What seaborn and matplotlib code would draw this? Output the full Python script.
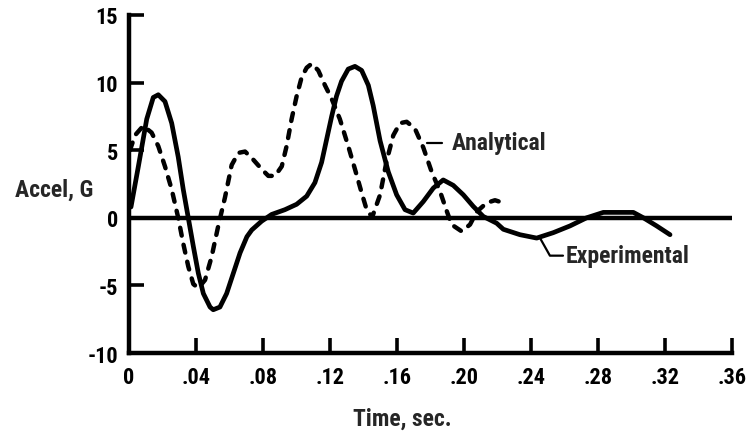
import matplotlib
matplotlib.use('Agg')
import matplotlib.pyplot as plt
import matplotlib.transforms as mtransforms
import seaborn as sns

# values (time in sec, acceleration in G)
exp_time = [0.0012, 0.0056, 0.0106, 0.0145, 0.0175, 0.0215, 0.0255, 0.0294, 0.0324, 0.0354,
            0.0384, 0.0414, 0.0444, 0.0484, 0.0503, 0.0543, 0.0583, 0.0623, 0.0663, 0.0704,
            0.0733, 0.0792, 0.0852, 0.0931, 0.1001, 0.1061, 0.1110, 0.1150, 0.1180, 0.1210,
            0.1239, 0.1269, 0.1309, 0.1349, 0.1389, 0.1429, 0.1458, 0.1499, 0.1548, 0.1598,
            0.1648, 0.1697, 0.1757, 0.1817, 0.1876, 0.1936, 0.1996, 0.2055, 0.2115, 0.2195,
            0.2235, 0.2334, 0.2434, 0.2533, 0.2633, 0.2732, 0.2832, 0.3011, 0.3071, 0.3150,
            0.3230]
exp_accel = [0.8, 3.8, 7.3, 8.9, 9.1, 8.6, 7.0, 4.5, 2.1, 0.0,
             -2.1, -4.1, -5.6, -6.6, -6.8, -6.6, -5.6, -4.1, -2.6, -1.4,
             -0.9, -0.25, 0.25, 0.6, 1.0, 1.6, 2.6, 4.1, 5.8, 7.5,
             9.0, 10.1, 11.0, 11.2, 10.9, 9.8, 8.3, 5.7, 3.4, 1.7,
             0.6, 0.35, 1.2, 2.2, 2.8, 2.4, 1.7, 0.85, 0.1, -0.4,
             -0.85, -1.25, -1.5, -1.1, -0.6, 0.0, 0.4, 0.4, 0.0, -0.6,
             -1.25]

ana_time = [0.0006, 0.0036, 0.0085, 0.0135, 0.0175, 0.0215, 0.0255, 0.0294, 0.0324, 0.0354,
            0.0384, 0.0414, 0.0454, 0.0493, 0.0533, 0.0573, 0.0613, 0.0653, 0.0693, 0.0742,
            0.0792, 0.0832, 0.0872, 0.0912, 0.0941, 0.0971, 0.1001, 0.1031, 0.1061, 0.1091,
            0.1130, 0.1170, 0.1210, 0.1259, 0.1309, 0.1349, 0.1389, 0.1419, 0.1452, 0.1499,
            0.1538, 0.1578, 0.1618, 0.1658, 0.1707, 0.1757, 0.1807, 0.1857, 0.1897, 0.1926,
            0.1986, 0.2036, 0.2076, 0.2135, 0.2185, 0.2235]
ana_accel = [5.0, 6.1, 6.8, 6.3, 5.3, 3.8, 2.1, 0.0, -1.9, -3.6,
             -4.9, -5.2, -4.6, -2.9, -0.6, 1.5, 3.9, 4.8, 4.9, 4.3,
             3.6, 3.1, 3.1, 3.8, 5.3, 7.3, 9.0, 10.4, 11.1, 11.4,
             10.9, 9.8, 8.8, 7.3, 5.3, 3.6, 1.85, 0.6, 0.05, 1.7,
             4.2, 6.1, 7.0, 7.1, 6.6, 5.2, 3.4, 1.95, 0.5, -0.5,
             -1.0, -0.5, 0.45, 1.1, 1.3, 1.1]

x_ticks = [0, 0.04, 0.08, 0.12, 0.16, 0.20, 0.24, 0.28, 0.32, 0.36]
x_labels = ['0', '.04', '.08', '.12', '.16', '.20', '.24', '.28', '.32', '.36']
y_ticks = [-10, -5, 0, 5, 10, 15]
y_labels = ['-10', '-5', '0', '5', '10', '15']

sns.set_style('white')
plt.rcParams['font.family'] = ['Roboto Condensed', 'DejaVu Sans']
plt.rcParams['font.weight'] = 'bold'

fig = plt.figure(figsize=(7.49, 4.39), dpi=100)
ax = fig.add_axes([0.1722, 0.1936, 0.8051, 0.77])

# zero reference line
ax.plot([0, 0.36], [0, 0], color='black', lw=3.2, solid_capstyle='round')

sns.lineplot(x=exp_time, y=exp_accel, ax=ax, color='black', lw=3.4, sort=False,
             solid_capstyle='round', solid_joinstyle='round')
sns.lineplot(x=ana_time, y=ana_accel, ax=ax, color='black', lw=3.2, sort=False,
             linestyle=(0, (1.8, 2.1)), dash_capstyle='round', dash_joinstyle='round')

ax.set_xlim(0, 0.36)
ax.set_ylim(-10, 15)
ax.set_xticks(x_ticks)
ax.set_xticklabels(x_labels)
ax.set_yticks(y_ticks)
ax.set_yticklabels(y_labels)
ax.tick_params(bottom=True, left=True, direction='in', length=11, width=2.6,
               color='black', labelsize=16, labelcolor='black')
ax.tick_params(axis='x', pad=9)
ax.tick_params(axis='y', pad=8)

for side in ['top', 'right']:
    ax.spines[side].set_visible(False)
for side in ['left', 'bottom']:
    ax.spines[side].set_linewidth(3.2)
    ax.spines[side].set_color('black')
    ax.spines[side].set_capstyle('projecting')

ax.set_xlabel('Time, sec.', fontsize=17, fontweight='bold')
ax.xaxis.set_label_coords(0.454, -0.16)
ax.set_ylabel('')
trans = mtransforms.blended_transform_factory(ax.transAxes, ax.transData)
ax.text(-0.06, 2.1, 'Accel, G', transform=trans, ha='right', va='center',
        fontsize=17, fontweight='bold')

# curve labels with leader lines
ax.plot([0.178, 0.187], [5.55, 5.55], color='black', lw=1.6)
ax.text(0.1925, 5.55, 'Analytical', ha='left', va='center', fontsize=17, fontweight='bold')
ax.plot([0.2454, 0.2513, 0.2591], [-1.5, -2.8, -2.8], color='black', lw=1.6)
ax.text(0.2605, -2.8, 'Experimental', ha='left', va='center', fontsize=17, fontweight='bold')

fig.savefig('out.png', dpi=100)
